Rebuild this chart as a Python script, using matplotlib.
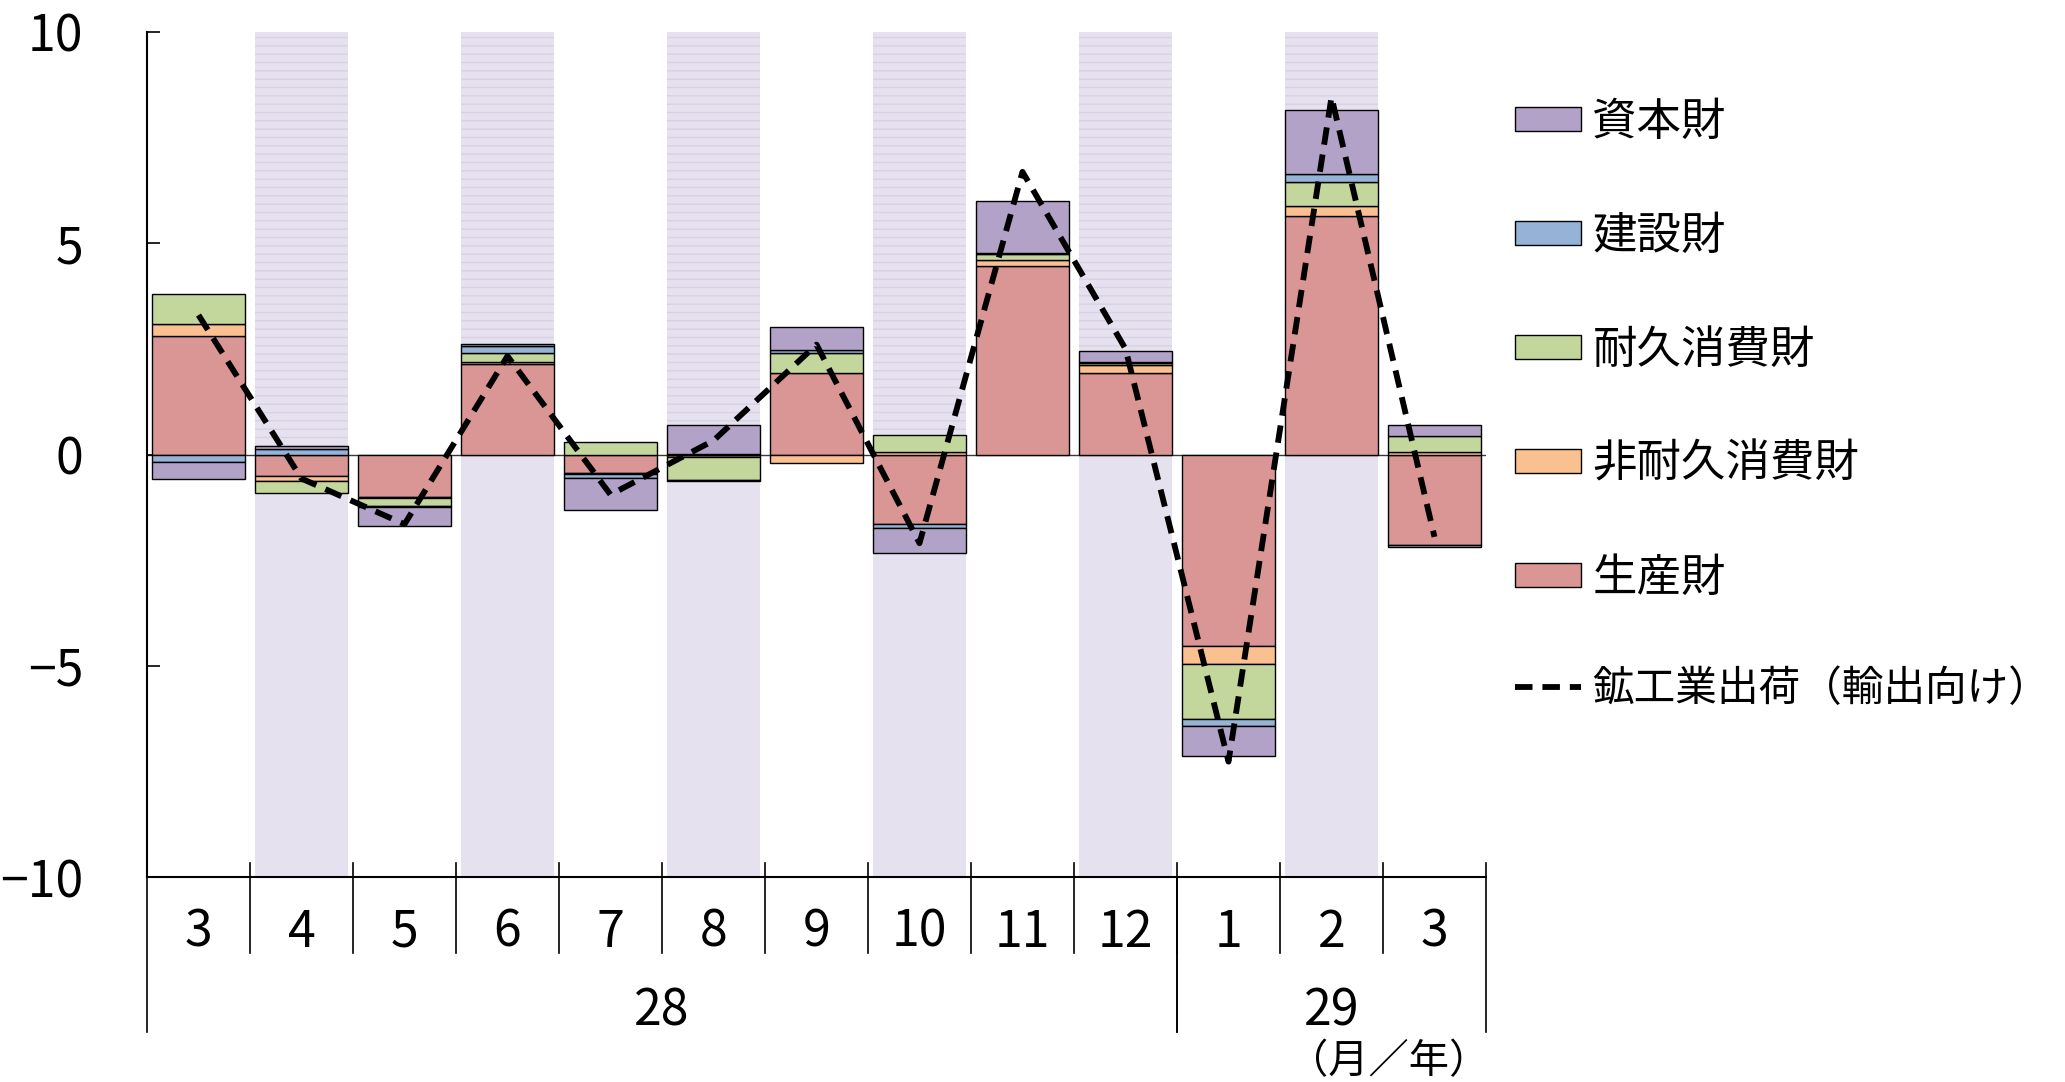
import numpy as np
import matplotlib
matplotlib.use('Agg')
import matplotlib.pyplot as plt
from matplotlib.transforms import blended_transform_factory

# ---------------- data ----------------
months = ['3', '4', '5', '6', '7', '8', '9', '10', '11', '12', '1', '2', '3']
years = ['28'] * 10 + ['29'] * 3

name_producer = '生産財'
name_nondurable = '非耐久消費財'
name_durable = '耐久消費財'
name_construction = '建設財'
name_capital = '資本財'
name_line = '鉱工業出荷（輸出向け）'

producer = [2.80, -0.51, -1.00, 2.15, -0.43, -0.07, 1.92, -1.64, 4.46, 1.92, -4.54, 5.64, -2.14]
nondurable = [0.29, -0.12, -0.02, 0.04, -0.03, 0.02, -0.19, 0.06, 0.15, 0.21, -0.42, 0.25, 0.06]
durable = [0.72, -0.28, -0.20, 0.22, 0.29, -0.53, 0.48, 0.41, 0.14, 0.04, -1.30, 0.57, 0.38]
construction = [-0.17, 0.14, -0.02, 0.15, -0.09, -0.02, 0.07, -0.09, 0.03, 0.02, -0.16, 0.18, -0.05]
capital = [-0.40, 0.05, -0.46, 0.06, -0.77, 0.67, 0.55, -0.61, 1.22, 0.25, -0.72, 1.52, 0.26]
shipments = [3.30, -0.57, -1.65, 2.33, -0.95, 0.33, 2.60, -2.10, 6.69, 2.50, -7.27, 8.46, -1.95]

yticks = [-10, -5, 0, 5, 10]
ytick_labels = ['−10', '−5', '0', '5', '10']
unit_label = '（月／年）'

# ---------------- style ----------------
DIGIT_FONT = ['Liberation Sans Narrow', 'Noto Sans CJK JP', 'DejaVu Sans']
JP_FONT = ['Noto Sans CJK JP', 'DejaVu Sans']
plt.rcParams['font.family'] = JP_FONT
plt.rcParams['hatch.linewidth'] = 1.0

col_producer = '#D99694'
col_nondurable = '#FAC090'
col_durable = '#C3D69B'
col_construction = '#95B3D7'
col_capital = '#B2A2C7'
shade_col = '#E6E1EF'
shade_hatch = '#D8D0E4'

W, H = 2065, 1082
fig = plt.figure(figsize=(W / 100, H / 100), dpi=100)
ax_left, ax_right, ax_top, ax_bot = 147, 1486, 32, 877
ax = fig.add_axes([ax_left / W, 1 - ax_bot / H, (ax_right - ax_left) / W, (ax_bot - ax_top) / H])

n = len(months)
x = np.arange(n)
ymin, ymax = yticks[0], yticks[-1]
bar_w = 0.91

# alternating background shading
shade_idx = x[x % 2 == 1]
ax.bar(shade_idx, [ymax] * len(shade_idx), width=bar_w, bottom=0, color=shade_col,
       edgecolor=shade_hatch, hatch='--', linewidth=0, zorder=0)
ax.bar(shade_idx, [ymin] * len(shade_idx), width=bar_w, bottom=0, color=shade_col,
       linewidth=0, zorder=0)

ax.axhline(0, color='#3a3a3a', lw=1.0, zorder=1.5)

# stacked bars
stack = [
    (name_producer, producer, col_producer),
    (name_nondurable, nondurable, col_nondurable),
    (name_durable, durable, col_durable),
    (name_construction, construction, col_construction),
    (name_capital, capital, col_capital),
]
pos_b = np.zeros(n)
neg_b = np.zeros(n)
handles = {}
for name, vals, col in stack:
    v = np.asarray(vals, dtype=float)
    bottom = np.where(v >= 0, pos_b, neg_b)
    h = ax.bar(x, v, width=bar_w, bottom=bottom, color=col, edgecolor='black',
               linewidth=1.0, label=name, zorder=2)
    handles[name] = h
    pos_b = pos_b + np.where(v >= 0, v, 0)
    neg_b = neg_b + np.where(v < 0, v, 0)

ln, = ax.plot(x, shipments, color='black', lw=4.2, ls=(0, (3.0, 1.7)), zorder=3,
              label=name_line)

# axes
ax.set_xlim(-0.5, n - 0.5)
ax.set_ylim(ymin, ymax)
ax.set_yticks(yticks)
ax.set_yticklabels(ytick_labels, fontsize=36, family=DIGIT_FONT)
ax.tick_params(axis='y', direction='in', length=9.5, width=1.2, pad=46, colors='black')
ax.set_xticks([])
for s in ['top', 'right']:
    ax.spines[s].set_visible(False)
ax.spines['left'].set_linewidth(1.5)
ax.spines['bottom'].set_linewidth(1.5)

# category axis (months / years)
trans = blended_transform_factory(ax.transData, ax.transAxes)
for b in np.arange(0.5, n - 1, 1.0):
    ax.plot([b, b], [0.0166, -0.090], color='black', lw=1.2, transform=trans, clip_on=False)
ax.plot([n - 0.5, n - 0.5], [0.0166, 0], color='black', lw=1.2, transform=trans, clip_on=False)
for i, m in enumerate(months):
    ax.text(i, -0.066, m, transform=trans, ha='center', va='center', fontsize=36,
            family=DIGIT_FONT)

# year groups
groups = []
start = 0
for i in range(1, n + 1):
    if i == n or years[i] != years[start]:
        groups.append((years[start], start, i - 1))
        start = i
for yl, a, b in groups:
    for edge in (a - 0.5, b + 0.5):
        ax.plot([edge, edge], [0, -0.183], color='black', lw=1.2, transform=trans, clip_on=False)
    ax.text((a + b) / 2, -0.159, yl, transform=trans, ha='center', va='center', fontsize=36,
            family=DIGIT_FONT)

ax.text(11.55, -0.2185, unit_label, transform=trans, ha='center', va='center', fontsize=29,
        family=JP_FONT)

# legend
order = [name_capital, name_construction, name_durable, name_nondurable, name_producer]
leg_h = [handles[k] for k in order] + [ln]
leg_l = order + [name_line]
leg = fig.legend(leg_h, leg_l, loc='upper left', bbox_to_anchor=(1515 / W, 1 - 99 / H),
                 bbox_transform=fig.transFigure, frameon=False,
                 handlelength=1.49, handleheight=0.47, handletextpad=0.25, labelspacing=1.53,
                 borderpad=0, borderaxespad=0, prop={'family': JP_FONT, 'size': 32})
leg.get_texts()[-1].set_fontsize(30)

fig.savefig('out.png', dpi=100)
